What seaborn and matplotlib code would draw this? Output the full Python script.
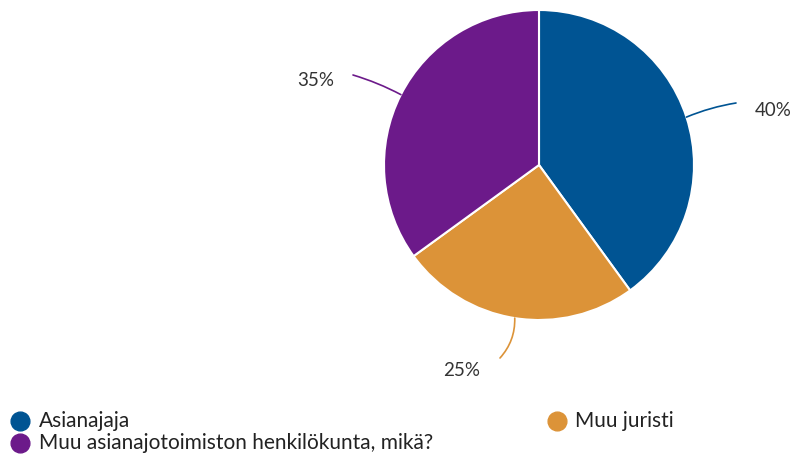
import numpy as np
import matplotlib
matplotlib.use("Agg")
import matplotlib.pyplot as plt
import seaborn as sns

categories = ["Asianajaja", "Muu juristi", "Muu asianajotoimiston henkilökunta, mikä?"]
values = [40, 25, 35]
labels = ["40%", "25%", "35%"]
colors = ["#005493", "#dc9338", "#6c1a8a"]

sns.set_theme(style="white")
plt.rcParams['font.family'] = ['Lato', 'DejaVu Sans']

W, H = 796, 455
fig = plt.figure(figsize=(W / 100, H / 100), dpi=100)
ax = fig.add_axes([0, 0, 1, 1])

cx, cy, r = 539, H - 165, 155
wedges, _ = ax.pie(values, colors=colors, startangle=90, counterclock=False,
                   center=(cx, cy), radius=r,
                   wedgeprops=dict(edgecolor="white", linewidth=1.5))
ax.set_xlim(0, W)
ax.set_ylim(0, H)
ax.set_aspect('equal')
ax.axis('off')

# label positions (pixel coords, y down) and leader end points
label_pos = {0: (773, 110), 1: (462, 370), 2: (316, 80)}
line_end = {0: (736, 103), 1: (500, 358), 2: (353, 75)}
rads = {0: 0.06, 1: 0.2, 2: -0.05}
for i, w in enumerate(wedges):
    ang = np.deg2rad((w.theta1 + w.theta2) / 2)
    px, py = cx + r * np.cos(ang), cy + r * np.sin(ang)
    ex, ey = line_end[i]
    ax.annotate("", xy=(px, py), xytext=(ex, H - ey),
                arrowprops=dict(arrowstyle="-", color=colors[i], lw=1.2,
                                connectionstyle=f"arc3,rad={rads[i]}",
                                shrinkA=0, shrinkB=0))
    lx, ly = label_pos[i]
    ax.text(lx, H - ly, labels[i], ha="center", va="center", fontsize=13.5,
            color="#333333")

# legend
leg = [(20, 421, 39), (557, 421, 575), (20, 443, 39)]
for i, (mx, my, tx) in enumerate(leg):
    ax.plot([mx], [H - my], marker="o", ms=13.5, color=colors[i], mec=colors[i])
    ax.text(tx, H - my, categories[i], ha="left", va="center", fontsize=15,
            color="#222222")

fig.savefig("out.png", dpi=100)
